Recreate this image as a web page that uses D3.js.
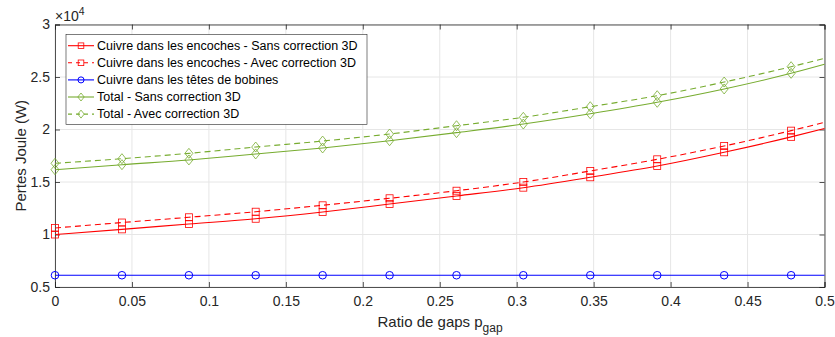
<!DOCTYPE html>
<html><head><meta charset="utf-8">
<script src="https://cdn.jsdelivr.net/npm/d3@7"></script>
<style>body{margin:0;background:#fff;}svg{display:block;font-family:Arial,"Liberation Sans",sans-serif;}</style>
</head><body><svg id="c" width="835" height="337"></svg>
<script>
// x = ratio de gaps (markers at every point except the last, 0.5)
const xVals = [0, 0.0435, 0.0870, 0.1304, 0.1739, 0.2174, 0.2609, 0.3043, 0.3478, 0.3913, 0.4348, 0.4783, 0.5];
// values in units of 1e4 W
const cuivreSans = [1.000, 1.049, 1.100, 1.150, 1.214, 1.290, 1.367, 1.446, 1.545, 1.652, 1.783, 1.930, 2.010];
const cuivreAvec = [1.062, 1.114, 1.164, 1.217, 1.278, 1.345, 1.417, 1.500, 1.605, 1.716, 1.843, 1.989, 2.068];
const tetes      = [0.612, 0.612, 0.612, 0.612, 0.612, 0.612, 0.612, 0.612, 0.612, 0.612, 0.612, 0.612, 0.612];
const totalSans  = [1.617, 1.665, 1.710, 1.767, 1.824, 1.893, 1.970, 2.052, 2.150, 2.259, 2.386, 2.535, 2.621];
const totalAvec  = [1.678, 1.722, 1.773, 1.833, 1.890, 1.957, 2.036, 2.116, 2.217, 2.322, 2.452, 2.598, 2.678];
const xTicks = [0, 0.05, 0.1, 0.15, 0.2, 0.25, 0.3, 0.35, 0.4, 0.45, 0.5];
const yTicks = [0.5, 1, 1.5, 2, 2.5, 3];
const seriesNames = ["Cuivre dans les encoches - Sans correction 3D","Cuivre dans les encoches - Avec correction 3D","Cuivre dans les têtes de bobines","Total - Sans correction 3D","Total - Avec correction 3D"];

const series = [
  {name: seriesNames[0], vals: cuivreSans, color: "#FF0000", dash: null, marker: "square"},
  {name: seriesNames[1], vals: cuivreAvec, color: "#FF0000", dash: "6,4", marker: "square"},
  {name: seriesNames[2], vals: tetes, color: "#0000FF", dash: null, marker: "circle"},
  {name: seriesNames[3], vals: totalSans, color: "#77AC30", dash: null, marker: "diamond"},
  {name: seriesNames[4], vals: totalAvec, color: "#77AC30", dash: "6,4", marker: "diamond"}
];

const L = 55, R = 824.5, T = 24.5, B = 287;
const svg = d3.select("#c");
const x = d3.scaleLinear().domain([0, 0.5]).range([L, R]);
const y = d3.scaleLinear().domain([0.5, 3]).range([B, T]);
const axisColor = "#262626";
const fs = 14;

// grid
const g = svg.append("g");
g.selectAll(".gx").data(xTicks).join("line").attr("x1", d=>x(d)).attr("x2", d=>x(d)).attr("y1", T).attr("y2", B).attr("stroke", "#e6e6e6").attr("stroke-width", 1);
g.selectAll(".gy").data(yTicks).join("line").attr("y1", d=>y(d)).attr("y2", d=>y(d)).attr("x1", L).attr("x2", R).attr("stroke", "#e6e6e6").attr("stroke-width", 1);

// axes (ticks inside)
const xb = svg.append("g").attr("transform", `translate(0,${B})`).call(d3.axisBottom(x).tickValues(xTicks).tickSize(-5).tickPadding(9).tickFormat(d3.format("")));
const xt = svg.append("g").attr("transform", `translate(0,${T})`).call(d3.axisTop(x).tickValues(xTicks).tickSize(-5).tickFormat(""));
const yl = svg.append("g").attr("transform", `translate(${L},0)`).call(d3.axisLeft(y).tickValues(yTicks).tickSize(-5).tickPadding(5).tickFormat(d3.format("")));
const yr = svg.append("g").attr("transform", `translate(${R},0)`).call(d3.axisRight(y).tickValues(yTicks).tickSize(-5).tickFormat(""));
[xb, xt, yl, yr].forEach(a => {
  a.select(".domain").attr("stroke", axisColor).attr("stroke-width", 0.8);
  a.selectAll(".tick line").attr("stroke", axisColor).attr("stroke-width", 0.8);
  a.selectAll("text").attr("fill", axisColor).style("font-size", fs + "px").style("font-family", "Arial, 'Liberation Sans', sans-serif");
});

// lines
const line = d3.line().x((d,i)=>x(xVals[i])).y(d=>y(d)).curve(d3.curveMonotoneX);
const plot = svg.append("g");
function drawMarker(sel, type, cx, cy, color, sc) {
  sc = sc || 1;
  if (type === "square") sel.append("rect").attr("x", cx-3.5*sc).attr("y", cy-3.5*sc).attr("width", 7*sc).attr("height", 7*sc).attr("fill", "none").attr("stroke", color).attr("stroke-width", 0.8);
  else if (type === "circle") sel.append("circle").attr("cx", cx).attr("cy", cy).attr("r", 3.8*sc).attr("fill", "none").attr("stroke", color).attr("stroke-width", 1);
  else sel.append("path").attr("d", `M${cx},${cy-5*sc}L${cx+4*sc},${cy}L${cx},${cy+5*sc}L${cx-4*sc},${cy}Z`).attr("fill", "none").attr("stroke", color).attr("stroke-width", 0.8);
}
series.forEach(s => {
  plot.append("path").attr("d", line(s.vals)).attr("fill", "none").attr("stroke", s.color).attr("stroke-width", 1.1).attr("stroke-dasharray", s.dash);
  const mg = plot.append("g");
  s.vals.forEach((v, i) => { if (i < s.vals.length - 1) drawMarker(mg, s.marker, x(xVals[i]), y(v), s.color); });
});

// exponent
const ex = svg.append("text").attr("x", L).attr("y", 20.5).attr("fill", axisColor).style("font-size", fs + "px");
ex.append("tspan").text("×10");
ex.append("tspan").attr("dy", -6).style("font-size", "10.5px").text("4");

// axis labels
svg.append("text").attr("transform", `translate(26,${(T+B)/2}) rotate(-90)`).attr("text-anchor", "middle").attr("fill", axisColor).style("font-size", "15px").text("Pertes Joule (W)");
const xl = svg.append("text").attr("x", 377.5).attr("y", 326.5).attr("fill", axisColor).style("font-size", "15px");
xl.append("tspan").text("Ratio de gaps p");
xl.append("tspan").attr("dy", 5).style("font-size", "12px").text("gap");

// legend
const lg = svg.append("g");
lg.append("rect").attr("x", 66).attr("y", 34.5).attr("width", 301).attr("height", 90).attr("fill", "#fff").attr("stroke", "#262626").attr("stroke-width", 0.6);
series.forEach((s, i) => {
  const yy = 45.7 + i * 17.1;
  lg.append("line").attr("x1", 68).attr("x2", 94).attr("y1", yy).attr("y2", yy).attr("stroke", s.color).attr("stroke-width", 1.1).attr("stroke-dasharray", s.dash ? "4,4" : null);
  drawMarker(lg, s.marker, 81, yy, s.color, 0.8);
  lg.append("text").attr("x", 97).attr("y", yy).attr("dy", "0.35em").attr("fill", "#000").style("font-size", "12.5px").text(s.name);
});
</script></body></html>
